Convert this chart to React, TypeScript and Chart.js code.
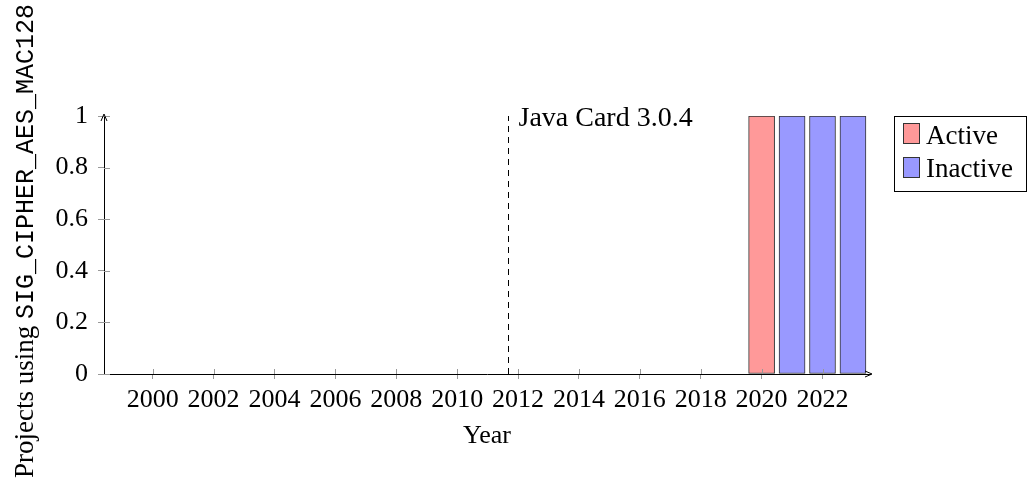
import React, { useEffect, useRef } from "react";
import { Chart, registerables } from "chart.js";

Chart.register(...registerables);

// ---- data ----
const activeYears = [2020];
const activeProjects = [1];
const inactiveYears = [2021, 2022, 2023];
const inactiveProjects = [1, 1, 1];
const xTickYears = [2000, 2002, 2004, 2006, 2008, 2010, 2012, 2014, 2016, 2018, 2020, 2022];
const yTickValues = [0, 0.2, 0.4, 0.6, 0.8, 1];
const xRange = [1998.4, 2023.56];
const yRange = [0, 1];
const releaseLabel = "Java Card 3.0.4";
const releaseYear = 2011.67;
const seriesNames = ["Active", "Inactive"];
const xTitle = "Year";
const yTitleSerif = "Projects using ";
const yTitleMono = "SIG_CIPHER_AES_MAC128";

const SERIF = "'Liberation Serif', serif";
const MONO = "'Liberation Mono', monospace";
const RED = "rgb(255,153,153)";
const BLUE = "rgb(153,153,255)";
const EDGE = "#333";

const overlay = {
  id: "overlay",
  afterDraw(chart: any) {
    const { ctx, chartArea, scales } = chart;
    const xs = scales.x;
    const ys = scales.y;
    const { left, right, top, bottom } = chartArea;
    ctx.save();

    // inner halves of tick marks
    ctx.strokeStyle = "#999";
    ctx.lineWidth = 1;
    ctx.beginPath();
    xTickYears.forEach((v) => {
      const px = Math.round(xs.getPixelForValue(v)) + 0.5;
      ctx.moveTo(px, bottom);
      ctx.lineTo(px, bottom - 5);
    });
    yTickValues.forEach((v) => {
      const py = Math.round(ys.getPixelForValue(v)) + 0.5;
      ctx.moveTo(left, py);
      ctx.lineTo(left + 6, py);
    });
    ctx.stroke();

    // axis arrows
    ctx.strokeStyle = "#000";
    ctx.lineWidth = 1;
    ctx.beginPath();
    ctx.moveTo(right - 5, bottom - 3);
    ctx.lineTo(right + 2, bottom);
    ctx.lineTo(right - 5, bottom + 3);
    ctx.moveTo(left - 3, top + 5);
    ctx.lineTo(left, top - 2);
    ctx.lineTo(left + 3, top + 5);
    ctx.stroke();

    // release marker
    const rx = Math.round(xs.getPixelForValue(releaseYear)) + 0.5;
    ctx.setLineDash([6, 5]);
    ctx.beginPath();
    ctx.moveTo(rx, ys.getPixelForValue(yRange[0]));
    ctx.lineTo(rx, ys.getPixelForValue(yRange[1]));
    ctx.stroke();
    ctx.setLineDash([]);
    ctx.fillStyle = "#000";
    ctx.font = `28px ${SERIF}`;
    ctx.textAlign = "left";
    ctx.textBaseline = "alphabetic";
    ctx.fillText(releaseLabel, rx + 10, top + 10);

    // x title
    ctx.font = `26px ${SERIF}`;
    ctx.textAlign = "center";
    ctx.fillText(xTitle, (left + right) / 2, 443);

    // y title (mixed fonts)
    ctx.font = `27px ${SERIF}`;
    const w1 = ctx.measureText(yTitleSerif).width;
    ctx.font = `25px ${MONO}`;
    const w2 = ctx.measureText(yTitleMono).width;
    const total = w1 + w2;
    ctx.save();
    ctx.translate(33, 241);
    ctx.rotate(-Math.PI / 2);
    ctx.textAlign = "left";
    ctx.font = `27px ${SERIF}`;
    ctx.fillText(yTitleSerif, -total / 2, 0);
    ctx.font = `25px ${MONO}`;
    ctx.fillText(yTitleMono, -total / 2 + w1, 0);
    ctx.restore();

    // legend
    ctx.strokeStyle = "#000";
    ctx.strokeRect(894.5, 116.5, 132, 75);
    const colors = [RED, BLUE];
    seriesNames.forEach((name, i) => {
      const by = 123 + i * 34;
      ctx.fillStyle = colors[i];
      ctx.fillRect(903, by, 17, 21);
      ctx.strokeStyle = EDGE;
      ctx.strokeRect(903.5, by + 0.5, 16, 20);
      ctx.fillStyle = "#000";
      ctx.font = `27px ${SERIF}`;
      ctx.textAlign = "left";
      ctx.fillText(name, 926, 144 + i * 32.5);
    });

    ctx.restore();
  },
};

export default function App() {
  const ref = useRef<HTMLCanvasElement | null>(null);
  useEffect(() => {
    if (!ref.current) return;
    const chart = new Chart(ref.current, {
      type: "bar",
      data: {
        datasets: [
          {
            label: seriesNames[0],
            data: activeYears.map((x, i) => ({ x, y: activeProjects[i] })),
            backgroundColor: RED,
            borderColor: EDGE,
            borderWidth: 1,
            borderSkipped: false,
            barThickness: 26,
            grouped: false,
          } as any,
          {
            label: seriesNames[1],
            data: inactiveYears.map((x, i) => ({ x, y: inactiveProjects[i] })),
            backgroundColor: BLUE,
            borderColor: EDGE,
            borderWidth: 1,
            borderSkipped: false,
            barThickness: 26,
            grouped: false,
          } as any,
        ],
      },
      options: {
        animation: false,
        responsive: true,
        maintainAspectRatio: false,
        layout: { padding: { left: 0, right: 157, top: 116, bottom: 0 } },
        plugins: { legend: { display: false }, tooltip: { enabled: false } },
        scales: {
          x: {
            type: "linear",
            min: xRange[0],
            max: xRange[1],
            offset: false,
            afterFit: (s: any) => {
              s.height = 108;
            },
            afterBuildTicks: (s: any) => {
              s.ticks = xTickYears.map((v) => ({ value: v }));
            },
            grid: { display: true, offset: false, drawOnChartArea: false, drawTicks: true, tickLength: 5, color: "#999" },
            border: { display: true, color: "#000", width: 1 },
            ticks: {
              autoSkip: false,
              maxRotation: 0,
              padding: 6,
              color: "#000",
              font: { family: SERIF, size: 26 },
              callback: (v: any) => String(v),
            },
          },
          y: {
            min: yRange[0],
            max: yRange[1],
            afterFit: (s: any) => {
              s.width = 104;
            },
            afterBuildTicks: (s: any) => {
              s.ticks = yTickValues.map((v) => ({ value: v }));
            },
            grid: { display: true, drawOnChartArea: false, drawTicks: true, tickLength: 6, color: "#999" },
            border: { display: true, color: "#000", width: 1 },
            ticks: {
              padding: 10,
              color: "#000",
              font: { family: SERIF, size: 26 },
              callback: (v: any) => String(Math.round(Number(v) * 10) / 10),
            },
          },
        },
      } as any,
      plugins: [overlay],
    });
    return () => chart.destroy();
  }, []);
  return (
    <div style={{ position: "fixed", left: 0, top: 0, width: 1027, height: 482, background: "#fff" }}>
      <canvas ref={ref} />
    </div>
  );
}
